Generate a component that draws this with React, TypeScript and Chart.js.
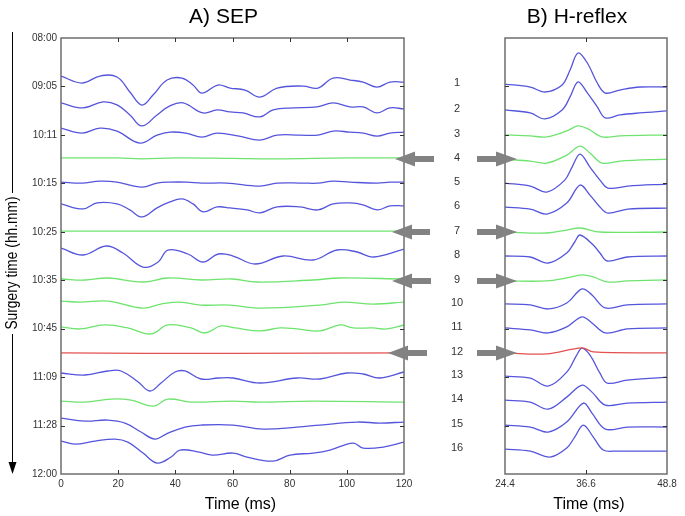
import React, { useEffect, useRef } from "react";
import { Chart, registerables } from "chart.js";
Chart.register(...registerables);

const TIME_LABELS = ["08:00", "09:05", "10:11", "10:15", "10:25", "10:35", "10:45", "11:09", "11:28", "12:00"];
const SEP_X_TICKS = [0, 20, 40, 60, 80, 100, 120];
const H_X_TICKS = [24.4, 36.6, 48.8];
const ROW_NUMBERS = ["1", "2", "3", "4", "5", "6", "7", "8", "9", "10", "11", "12", "13", "14", "15", "16"];
const ARROW_ROWS = [4, 7, 9, 12];

const SEP_COLORS = ["b", "b", "b", "g", "b", "b", "g", "b", "g", "g", "g", "r", "b", "g", "b", "b"];
const H_COLORS = ["b", "b", "g", "g", "b", "b", "g", "b", "g", "b", "b", "r", "b", "b", "b", "b"];

const SEP_OFFSETS = [1.57, 2.68, 3.72, 4.95, 5.95, 6.85, 7.97, 8.67, 9.95, 10.86, 11.93, 13.0, 13.83, 14.99, 15.69, 16.64];
const H_OFFSETS = [1.9, 2.97, 4.0, 5.0, 5.99, 6.98, 8.01, 9.0, 10.03, 10.98, 11.97, 13.0, 13.96, 14.95, 15.98, 16.97];

// [time (ms), amplitude (µV, up positive)]
const SEP_TRACES: number[][][] = [
  [[0,0],[7.3,-7],[13.6,0],[19.6,-1],[24.1,-16],[28.3,-29],[32.2,-19],[37.1,-4],[42.3,-2],[46.2,-9],[49.3,-17],[54.9,-9],[59.1,-12],[64.4,-14],[69.6,-21],[75.6,-12],[84.7,-10],[89.9,-12],[95.2,-2],[101.1,-4],[105.7,-6],[110.6,-11],[115.1,-6],[120,-6]],
  [[0,0],[7.7,-5],[14.7,1],[19.6,-2],[24.1,-12],[28.3,-23],[33.6,-12],[38.1,-3],[42.7,0],[49.7,-10],[54.6,-7],[59.1,-9],[63.7,-10],[69.6,-14],[74.2,-7],[81.2,-5],[89.6,-4],[95.2,0],[101.1,-4],[105.7,-4],[110.6,-10],[115.1,-5],[120,-6]],
  [[0,0],[7.3,-5],[13.6,0],[19.6,-3],[27.6,-15],[33.6,-7],[38.1,-4],[43.7,-5],[49.3,-9],[54.6,-5],[62.3,-8],[69.6,-12],[75.6,-7],[83.6,-7],[89.9,-7],[95.2,-3],[101.1,-4],[105.7,-5],[110.6,-8],[115.1,-5],[120,-4]],
  [[0,0],[20,0],[28,-1],[40,0],[60,-0.5],[75,-1],[100,0],[120,0]],
  [[0,0],[7.3,-1],[13.6,1],[19.6,0],[28.3,-5],[33.6,-1],[38.1,0],[44,0],[49.3,-1],[58,-1],[69.6,-4],[75.6,-1],[84.7,-1],[89.9,-1],[95.2,1],[101.1,0],[110.6,-1],[115.1,0],[120,0]],
  [[0,0],[7.7,-5],[12.6,1],[19.6,0],[24.1,-6],[28.3,-13],[33.6,-4],[38.1,2],[42.3,5],[46.2,0],[49.7,-8],[54.6,-3],[59.1,-4],[65.1,-6],[69.6,-9],[75.6,-3],[83.6,-3],[89.9,-6],[95.2,0],[101.1,1],[105.7,-1],[110.6,-6],[115.1,-2],[120,-2]],
  [[0,0],[40,0],[80,0],[120,0]],
  [[0,0],[7.7,-7],[15.8,2],[21.7,-5],[28.7,-19],[34,-14],[37.4,-2],[44.4,-6],[49.7,-14],[55,-6],[60.2,-8],[67.9,-16],[77.7,-8],[88.2,-12],[96.6,-2],[103.6,-4],[109.2,-9],[120,-1]],
  [[0,0],[8.4,-1],[16.4,1],[28.7,-3],[37.4,1],[49,-1],[60,0],[68.6,-3],[88,-1],[97.6,1],[120,0]],
  [[0,0],[6.6,-1],[16.4,0],[28.7,-7],[35,-3],[41.6,-1],[49,-4],[59,-4],[69.6,-7],[90.6,-4],[98.7,-1],[109.2,-3],[120,-1]],
  [[0,0],[6.6,-2],[15.4,2],[23.4,-1],[31.5,-7],[37.4,2],[45.5,-1],[50.4,-6],[56,1],[61,-1],[69.6,-4],[76.6,-1],[82.6,-2],[90.6,-4],[97.6,2],[102.2,-1],[109.2,-1],[114,-2],[120,2]],
  [[0,0],[30,-0.5],[60,-0.5],[120,0]],
  [[0,0],[8.4,-2],[16.4,2],[21,2],[27,-9],[31.1,-18],[35,-10],[39.9,1],[43.4,2],[49,-6],[55,-5],[60.2,-5],[69.6,-10],[82.6,-5],[90.6,-6],[100,0],[105.7,-1],[111.6,-5],[120,1]],
  [[0,0],[8.4,-1],[17.5,2],[24.5,1],[32.2,-5],[37.4,2],[45.5,-1],[60,0],[69.6,-1],[88,0],[120,-1]],
  [[0,0],[8.4,-3],[16.4,-2],[22.4,-5],[28,-14],[32.9,-21],[37.4,-15],[43.4,-9],[49,-7],[60.2,-7],[70.7,-11],[82.6,-9],[90.6,-7],[103.6,-4],[111.6,-5],[120,-4]],
  [[0,0],[4.9,-3],[11.9,0],[18.9,2],[23.4,-1],[28.7,-12],[33.6,-22],[38.5,-16],[41.6,-9],[48.3,-11],[53,-14],[60.2,-12],[65.1,-16],[74.2,-20],[80.1,-14],[88.2,-12],[94.1,-9],[102.2,-2],[105.7,-7],[112.7,-6],[120,-1]],
];

const H_TRACES: number[][][] = [
  [[24.4,0],[28.2,-3],[30.4,-8],[33,-1],[34.2,14],[35.4,31],[36.8,21],[38.3,1],[39.5,-9],[41.7,-6],[44.7,-3],[48.8,-3]],
  [[24.4,0],[28.2,-3],[30.4,-9],[33,0],[34.2,13],[35.4,28],[36.8,17],[38.3,3],[39.5,-8],[41.7,-5],[44.7,-3],[48.8,-1]],
  [[24.4,0],[28.2,-1],[30.7,-2],[33.7,4],[35.4,9],[36.9,6],[39,-2],[41.7,-1],[48.8,0]],
  [[24.4,0],[28.2,-2],[30.7,-4],[33.7,4],[35.7,13],[37.2,6],[39,-4],[41.7,-2],[48.8,0]],
  [[24.4,0],[28.2,-3],[30.7,-9],[33.4,3],[34.5,16],[35.7,29],[37.2,16],[38.7,3],[39.9,-5],[42.9,-3],[48.8,-1]],
  [[24.4,0],[28.2,-2],[30.7,-7],[33.7,4],[35.7,22],[37.2,12],[38.7,0],[39.9,-6],[42.9,-2],[48.8,-1]],
  [[24.4,0],[30.7,-1],[33.7,2],[35.7,4],[38.7,0],[48.8,0]],
  [[24.4,0],[28.2,-1],[30.9,-7],[33.7,3],[34.9,14],[35.7,21],[37.7,11],[38.7,3],[39.8,-5],[42.8,-1],[48.8,0]],
  [[24.4,0],[30.7,0],[33.7,3],[36,6],[37.7,4],[39.8,-1],[42.8,0],[48.8,1]],
  [[24.4,0],[28.2,-1],[30.9,-5],[33.7,1],[36,15],[37.5,9],[39.5,-4],[42.8,-1],[48.8,0]],
  [[24.4,0],[28.2,-2],[30.9,-5],[33.7,1],[36,11],[37.5,5],[39.5,-5],[42.8,-1],[48.8,0]],
  [[24.4,0],[30.7,-1],[36,5],[37.7,1],[48.8,0]],
  [[24.4,0],[28.2,-2],[30.9,-10],[33.7,4],[35.2,21],[36,28],[37.2,21],[38.7,3],[39.8,-7],[42.8,-4],[48.8,-1]],
  [[24.4,0],[28.2,-2],[30.9,-9],[33.7,3],[36,15],[37.5,8],[39.5,-5],[42.8,-3],[48.8,-2]],
  [[24.4,0],[28.2,-2],[30.9,-7],[33.7,3],[36.2,22],[37.5,12],[39.5,-4],[42.8,-2],[48.8,-2]],
  [[24.4,0],[28.2,-2],[31.2,-8],[33.7,1],[34.9,12],[36.2,24],[37.7,12],[39.2,-1],[41.3,-2],[48.8,-2]],
];

const W = 685;
const H = 516;
const GAIN = 1 / 24.22;
const FONT = "'Liberation Sans', Arial, sans-serif";
const COLOR: Record<string, string> = { b: "#5555dc", g: "#6ee46e", r: "#e45050" };

function buildDatasets(traces: number[][][], offsets: number[], colors: string[], tension: number) {
  return traces.map((tr, i) => ({
    data: tr.map(([t, a]) => ({ x: t, y: offsets[i] - a * GAIN })),
    borderColor: COLOR[colors[i]],
    borderWidth: 1.3,
    pointRadius: 0,
    tension,
    fill: false,
  }));
}

function framePlugin(xTicks: number[], yTicks: number[]) {
  return {
    id: "frame",
    afterDraw(chart: any) {
      const { ctx, chartArea, scales } = chart;
      const { left, right, top, bottom } = chartArea;
      ctx.save();
      ctx.strokeStyle = "#6e6e6e";
      ctx.lineWidth = 1.5;
      ctx.strokeRect(left, top, right - left, bottom - top);
      ctx.strokeStyle = "#333";
      ctx.lineWidth = 1;
      ctx.beginPath();
      xTicks.forEach((v) => {
        const x = Math.round(scales.x.getPixelForValue(v)) + 0.5;
        ctx.moveTo(x, top); ctx.lineTo(x, top + 4);
        ctx.moveTo(x, bottom); ctx.lineTo(x, bottom - 4);
      });
      yTicks.forEach((v) => {
        const y = Math.round(scales.y.getPixelForValue(v)) + 0.5;
        ctx.moveTo(left, y); ctx.lineTo(left + 4, y);
        ctx.moveTo(right, y); ctx.lineTo(right - 4, y);
      });
      ctx.stroke();
      ctx.restore();
    },
  };
}

const INNER_Y_TICKS = [2, 4, 6, 8, 10, 12, 14, 16];

const sepDecor = {
  id: "sepDecor",
  afterDraw(chart: any) {
    const { ctx, chartArea } = chart;
    const cx = (chartArea.left + chartArea.right) / 2;
    ctx.save();
    ctx.fillStyle = "#000";
    ctx.font = `21px ${FONT}`;
    ctx.textAlign = "center";
    ctx.textBaseline = "alphabetic";
    ctx.fillText("A) SEP", cx - 9, 23);
    ctx.font = `16px ${FONT}`;
    ctx.textBaseline = "middle";
    ctx.fillText("Time (ms)", cx + 8, 505);
    // vertical time arrow
    ctx.strokeStyle = "#000";
    ctx.lineWidth = 1;
    ctx.beginPath();
    ctx.moveTo(12.5, 32); ctx.lineTo(12.5, 193);
    ctx.moveTo(12.5, 334); ctx.lineTo(12.5, 463);
    ctx.stroke();
    ctx.beginPath();
    ctx.moveTo(8.5, 462); ctx.lineTo(16.5, 462); ctx.lineTo(12.5, 474); ctx.closePath();
    ctx.fill();
    ctx.translate(12, 263);
    ctx.rotate(-Math.PI / 2);
    ctx.scale(0.81, 1);
    ctx.font = `17px ${FONT}`;
    ctx.fillText("Surgery time (hh.mm)", 0, 0);
    ctx.restore();
  },
};

const LEFT_TIPS = [395, 392, 392, 388];
const LEFT_ENDS = [434, 430, 431, 427];

const hDecor = {
  id: "hDecor",
  afterDraw(chart: any) {
    const { ctx, chartArea, scales } = chart;
    const cx = (chartArea.left + chartArea.right) / 2;
    ctx.save();
    ctx.fillStyle = "#000";
    ctx.font = `21px ${FONT}`;
    ctx.textAlign = "center";
    ctx.textBaseline = "alphabetic";
    ctx.fillText("B) H-reflex", cx - 9, 23);
    ctx.font = `16px ${FONT}`;
    ctx.textBaseline = "middle";
    ctx.fillText("Time (ms)", cx + 3, 505);
    // row numbers
    ctx.font = `11px ${FONT}`;
    ctx.fillStyle = "#333";
    ROW_NUMBERS.forEach((n, i) => {
      const y = scales.y.getPixelForValue(H_OFFSETS[i]) - 1;
      ctx.fillText(n, 457, y);
    });
    // gray arrows
    ctx.fillStyle = "#828282";
    ARROW_ROWS.forEach((r, k) => {
      const y = scales.y.getPixelForValue(H_OFFSETS[r - 1]);
      const tip = LEFT_TIPS[k];
      const end = LEFT_ENDS[k];
      ctx.beginPath();
      ctx.moveTo(tip, y);
      ctx.lineTo(tip + 20, y - 7.5);
      ctx.lineTo(tip + 20, y - 3);
      ctx.lineTo(end, y - 3);
      ctx.lineTo(end, y + 3);
      ctx.lineTo(tip + 20, y + 3);
      ctx.lineTo(tip + 20, y + 7.5);
      ctx.closePath();
      ctx.fill();
      ctx.beginPath();
      ctx.moveTo(517, y);
      ctx.lineTo(496, y - 7.5);
      ctx.lineTo(496, y - 3);
      ctx.lineTo(477, y - 3);
      ctx.lineTo(477, y + 3);
      ctx.lineTo(496, y + 3);
      ctx.lineTo(496, y + 7.5);
      ctx.closePath();
      ctx.fill();
    });
    ctx.restore();
  },
};

export default function App() {
  const sepRef = useRef<HTMLCanvasElement>(null);
  const hRef = useRef<HTMLCanvasElement>(null);

  useEffect(() => {
    Chart.defaults.font.family = FONT;
    const tickFont = { size: 10, family: FONT };

    const sep = new Chart(sepRef.current!, {
      type: "line",
      data: { datasets: buildDatasets(SEP_TRACES, SEP_OFFSETS, SEP_COLORS, 0.4) as any },
      options: {
        responsive: false,
        animation: false,
        events: [],
        layout: { padding: { left: 0, right: W - 404, top: 38, bottom: 0 } },
        plugins: { legend: { display: false }, tooltip: { enabled: false }, title: { display: false } },
        scales: {
          x: {
            type: "linear",
            min: 0,
            max: 120,
            afterBuildTicks: (s: any) => { s.ticks = SEP_X_TICKS.map((v) => ({ value: v })); },
            afterFit: (s: any) => { s.height = 42; },
            grid: { display: false, drawTicks: false },
            border: { display: false },
            ticks: { font: tickFont, color: "#333", padding: 4, autoSkip: false, maxRotation: 0 },
          },
          y: {
            type: "linear",
            reverse: true,
            min: 0,
            max: 18,
            afterBuildTicks: (s: any) => { s.ticks = TIME_LABELS.map((_, i) => ({ value: i * 2 })); },
            afterFit: (s: any) => { s.width = 61; },
            grid: { display: false, drawTicks: false },
            border: { display: false },
            ticks: {
              font: tickFont,
              color: "#333",
              padding: 4,
              autoSkip: false,
              callback: (v: any) => TIME_LABELS[Math.round(Number(v) / 2)],
            },
          },
        },
      },
      plugins: [framePlugin([20, 40, 60, 80, 100], INNER_Y_TICKS), sepDecor],
    });

    const hr = new Chart(hRef.current!, {
      type: "line",
      data: { datasets: buildDatasets(H_TRACES, H_OFFSETS, H_COLORS, 0.35) as any },
      options: {
        responsive: false,
        animation: false,
        events: [],
        layout: { padding: { left: 505, right: W - 667, top: 38, bottom: 0 } },
        plugins: { legend: { display: false }, tooltip: { enabled: false }, title: { display: false } },
        scales: {
          x: {
            type: "linear",
            min: 24.4,
            max: 48.8,
            afterBuildTicks: (s: any) => { s.ticks = H_X_TICKS.map((v) => ({ value: v })); },
            afterFit: (s: any) => { s.height = 42; },
            grid: { display: false, drawTicks: false },
            border: { display: false },
            ticks: {
              font: tickFont,
              color: "#333",
              padding: 4,
              autoSkip: false,
              maxRotation: 0,
              callback: (v: any) => Number(v).toFixed(1),
            },
          },
          y: {
            type: "linear",
            reverse: true,
            min: 0,
            max: 18,
            display: false,
          },
        },
      },
      plugins: [framePlugin([36.6], INNER_Y_TICKS), hDecor],
    });

    return () => {
      sep.destroy();
      hr.destroy();
    };
  }, []);

  return (
    <div style={{ position: "fixed", left: 0, top: 0, width: W, height: H, background: "#fff" }}>
      <canvas ref={sepRef} width={W} height={H} style={{ position: "absolute", left: 0, top: 0 }} />
      <canvas ref={hRef} width={W} height={H} style={{ position: "absolute", left: 0, top: 0 }} />
    </div>
  );
}
